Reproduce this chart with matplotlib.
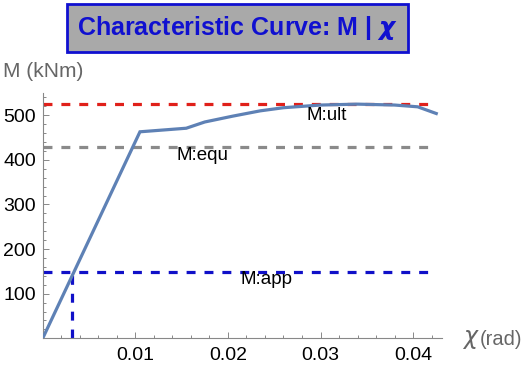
import numpy as np
import matplotlib.pyplot as plt
from matplotlib.ticker import MultipleLocator

plt.rcParams['font.family'] = ['Liberation Sans', 'DejaVu Sans']

# moment-curvature curve
chi = [0.0, 0.0105, 0.0155, 0.0175, 0.0205, 0.0235, 0.026, 0.030, 0.034, 0.038, 0.0405, 0.0425]
moment = [0, 463, 471, 485, 498, 510, 517, 523, 525, 523, 519, 504]

m_ult = 525
m_equ = 430
m_app = 148
chi_app = 0.00313

levels = [m_ult, m_equ, m_app]
level_colors = ['#e0201a', '#8a8a8a', '#1010c8']
level_names = ['M:ult', 'M:equ', 'M:app']
label_pos = [(0.0307, 500), (0.0172, 409), (0.0242, 131)]

fig = plt.figure(figsize=(5.21, 3.69), dpi=100)
ax = fig.add_axes([0.082, 0.0832, 0.766, 0.666])

dash = (0, (2.8, 2.8))
for lev, col in zip(levels, level_colors):
    ax.plot([0, 0.0425], [lev, lev], color=col, lw=2.3, linestyle=dash, zorder=2)
ax.plot([chi_app, chi_app], [0, m_app], color=level_colors[2], lw=2.3, linestyle=dash, zorder=2)

ax.plot(chi, moment, color='#5e81b5', lw=2.3, zorder=3, solid_joinstyle='miter')

for name, (px, py) in zip(level_names, label_pos):
    ax.text(px, py, name, ha='center', va='center', fontsize=13.5, color='black', zorder=4)

ax.set_xlim(0, 0.0431)
ax.set_ylim(0, 551)
ax.spines['top'].set_visible(False)
ax.spines['right'].set_visible(False)
for s in ('left', 'bottom'):
    ax.spines[s].set_color('#888888')
    ax.spines[s].set_linewidth(0.8)

ax.xaxis.set_major_locator(MultipleLocator(0.01))
ax.xaxis.set_minor_locator(MultipleLocator(0.002))
ax.yaxis.set_major_locator(MultipleLocator(100))
ax.yaxis.set_minor_locator(MultipleLocator(20))
ax.tick_params(which='both', direction='in', color='#888888', width=0.7, labelsize=14)
ax.tick_params(which='major', length=4)
ax.tick_params(which='minor', length=2.5)
ax.set_xticks([0.01, 0.02, 0.03, 0.04])
ax.set_xticklabels(['0.01', '0.02', '0.03', '0.04'])
ax.set_yticks([100, 200, 300, 400, 500])
ax.set_yticklabels(['100', '200', '300', '400', '500'])
ax.tick_params(axis='x', pad=6)
ax.tick_params(axis='y', pad=5)

fig.text(0.006, 0.805, 'M (kNm)', fontsize=15, color='#666666', va='center', ha='left')
fig.text(0.886, 0.08, r'$\chi$', fontsize=17, color='#666666', va='center', ha='left')
fig.text(0.92, 0.08, '(rad)', fontsize=14.5, color='#666666', va='center', ha='left')

fig.text(0.456, 0.924, r'Characteristic Curve: M | $\boldsymbol{\chi}$', fontsize=18,
         fontweight='bold', color='#1010d0', ha='center', va='center',
         bbox=dict(boxstyle='square,pad=0.4', fc='#a9a9a9', ec='#1010d0', lw=2))

fig.savefig('out.png', dpi=100)
